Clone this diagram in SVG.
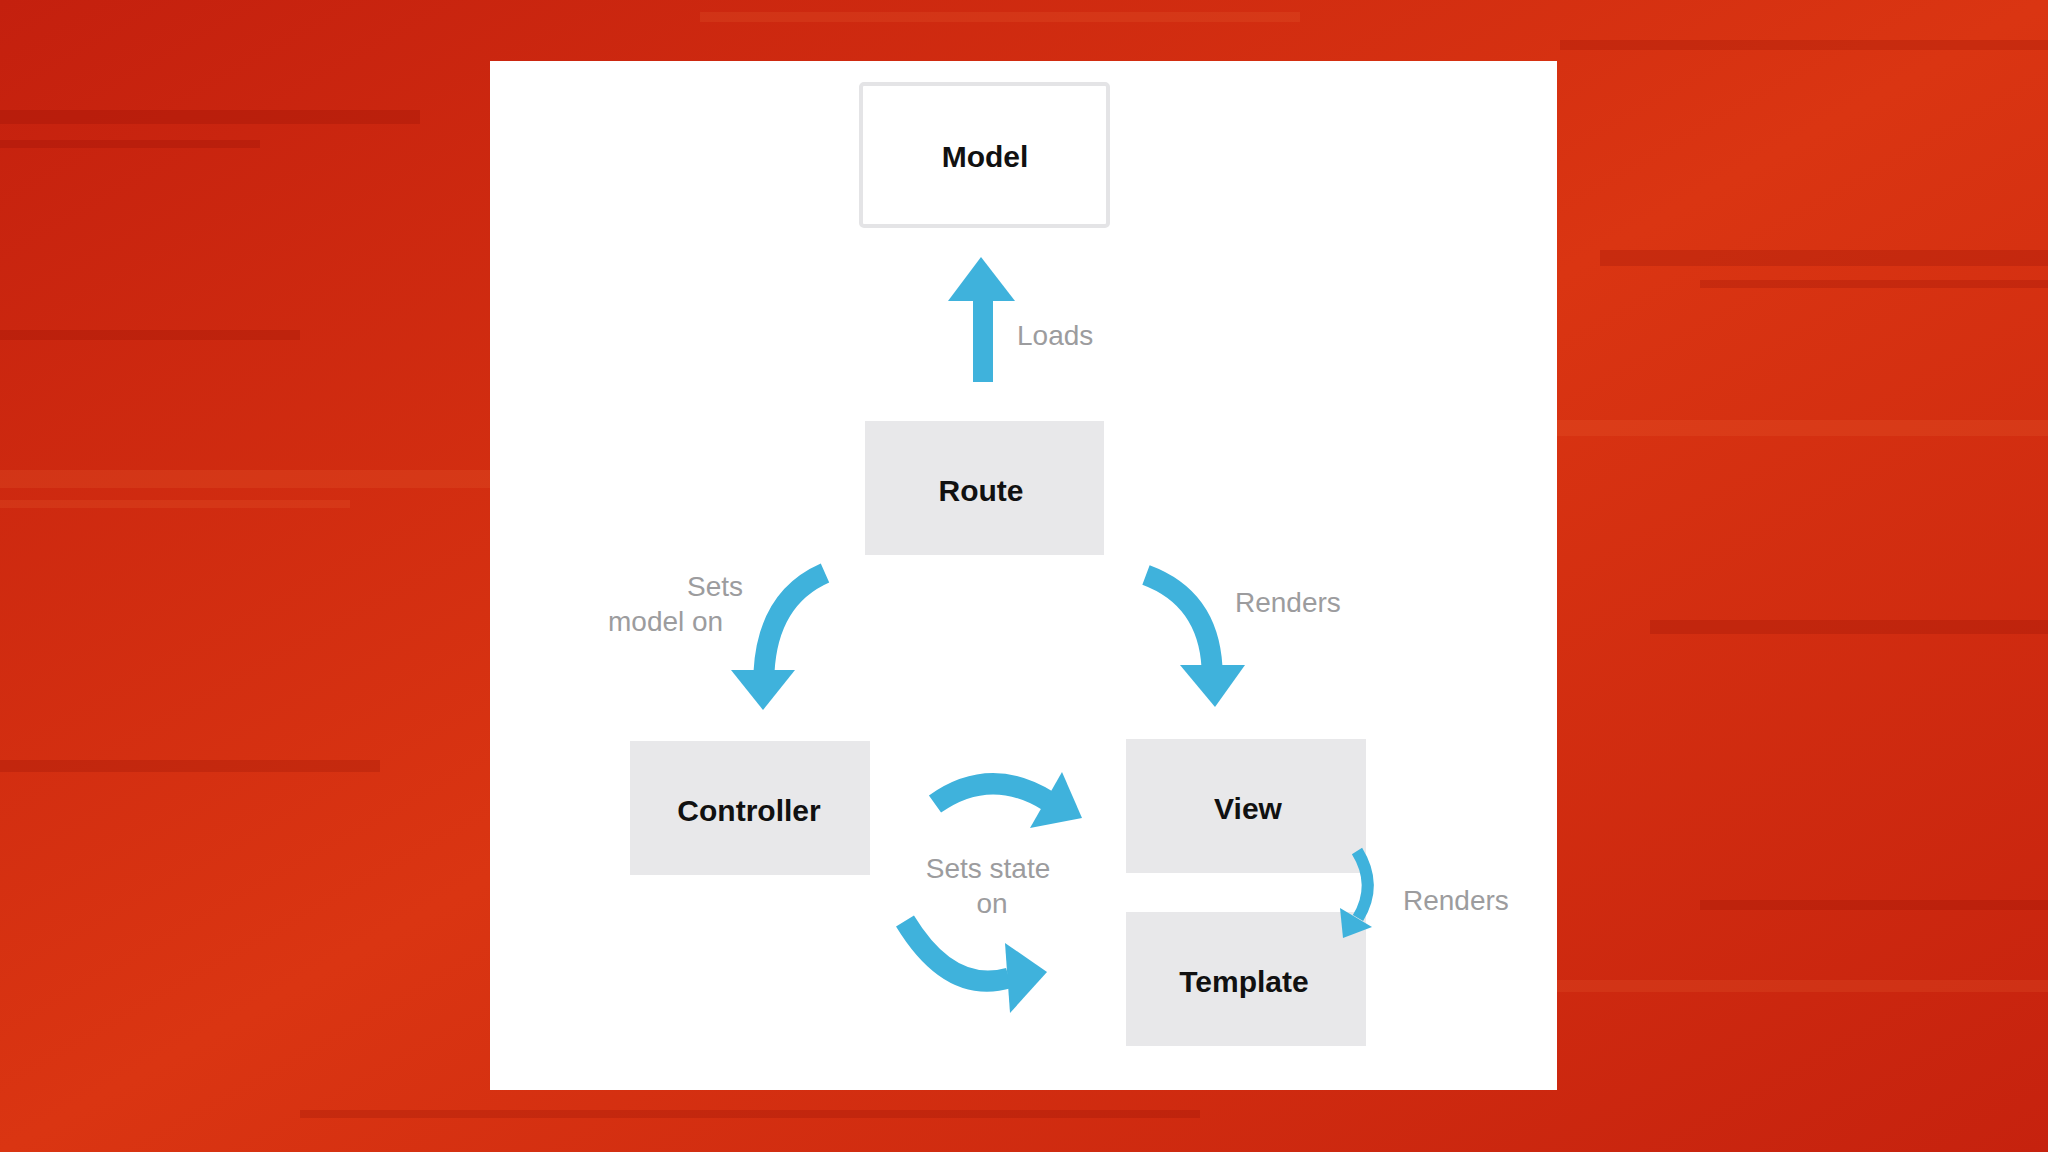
<svg xmlns="http://www.w3.org/2000/svg" width="2048" height="1152" viewBox="0 0 2048 1152">
<defs>
<linearGradient id="bg" x1="0" y1="0" x2="1" y2="1">
<stop offset="0" stop-color="#c4200e"/>
<stop offset="0.5" stop-color="#da3512"/>
<stop offset="1" stop-color="#c6220e"/>
</linearGradient>
<style>
.box{fill:#e8e8ea}
.lbl{font-family:"Liberation Sans",Arial,sans-serif;font-weight:bold;font-size:30px;fill:#111;text-anchor:middle}
.cap{font-family:"Liberation Sans",Arial,sans-serif;font-size:28px;fill:#9c9c9e}
.sh{fill:none;stroke:#3fb2dc;stroke-width:21}
.hd{fill:#3fb2dc}
</style>
</defs>
<rect width="2048" height="1152" fill="url(#bg)"/>
<g opacity="0.22" fill="#8a0c06">
<rect x="0" y="110" width="420" height="14"/>
<rect x="0" y="140" width="260" height="8"/>
<rect x="0" y="330" width="300" height="10"/>
<rect x="1600" y="250" width="448" height="16"/>
<rect x="1700" y="280" width="348" height="8"/>
<rect x="1650" y="620" width="398" height="14"/>
<rect x="0" y="760" width="380" height="12"/>
<rect x="1700" y="900" width="348" height="10"/>
<rect x="300" y="1110" width="900" height="8"/>
<rect x="1560" y="40" width="488" height="10"/>
</g>
<g opacity="0.15" fill="#f27a40">
<rect x="0" y="470" width="490" height="18"/>
<rect x="0" y="500" width="350" height="8"/>
<rect x="1557" y="420" width="491" height="16"/>
<rect x="700" y="12" width="600" height="10"/>
<rect x="1557" y="980" width="491" height="12"/>
</g>
<rect x="490" y="61" width="1067" height="1029" fill="#ffffff"/>

<g id="model">
<rect x="861" y="84" width="247" height="142" rx="3" fill="#ffffff" stroke="#e4e4e6" stroke-width="4"/>
<text class="lbl" x="985" y="167">Model</text>
</g>
<g id="route">
<rect class="box" x="865" y="421" width="239" height="134"/>
<text class="lbl" x="981" y="501">Route</text>
</g>
<g id="controller">
<rect class="box" x="630" y="741" width="240" height="134"/>
<text class="lbl" x="749" y="821">Controller</text>
</g>
<g id="view">
<rect class="box" x="1126" y="739" width="240" height="134"/>
<text class="lbl" x="1248" y="819">View</text>
</g>
<g id="template">
<rect class="box" x="1126" y="912" width="240" height="134"/>
<text class="lbl" x="1244" y="992">Template</text>
</g>

<g id="connectors">
<rect class="hd" x="973" y="298" width="20" height="84"/>
<polygon class="hd" points="981,257 1015,301 948,301"/>
<path class="sh" d="M825,573 Q768,598 764,672"/>
<polygon class="hd" points="731,670 795,670 763,710"/>
<path class="sh" d="M1146,575 Q1208,598 1212,667"/>
<polygon class="hd" points="1180,665 1245,665 1215,707"/>
<path class="sh" d="M935,804 Q990,765 1048,801"/>
<polygon class="hd" points="1062,772 1082,818 1030,828"/>
<path class="sh" d="M905,921 Q950,995 1009,978"/>
<polygon class="hd" points="1005,943 1047,972 1010,1013"/>
<path class="sh" style="stroke-width:12" d="M1357,851 Q1378,885 1358,918"/>
<polygon class="hd" points="1340,908 1372,927 1343,938"/>
</g>

<g id="labels">
<text class="cap" x="1017" y="345">Loads</text>
<text class="cap" x="687" y="596">Sets</text>
<text class="cap" x="608" y="631">model on</text>
<text class="cap" x="1235" y="612">Renders</text>
<text class="cap" x="988" y="878" text-anchor="middle">Sets state</text>
<text class="cap" x="992" y="913" text-anchor="middle">on</text>
<text class="cap" x="1403" y="910">Renders</text>
</g>
</svg>
